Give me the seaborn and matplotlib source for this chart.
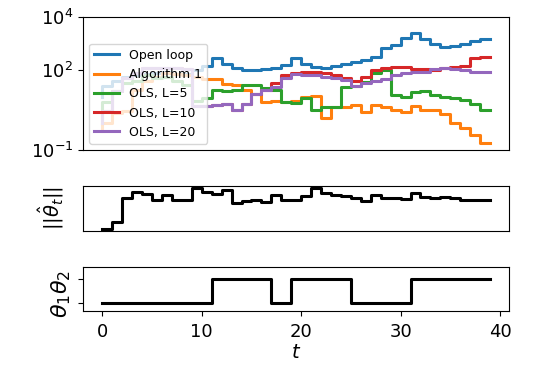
import numpy as np
import pandas as pd
import matplotlib
matplotlib.use("Agg")
import matplotlib.pyplot as plt
import seaborn as sns

t = np.arange(40)

# log10 of the cost per step
open_loop_log = [1.0, 1.4, 1.6, 1.75, 1.8, 1.85, 1.9, 1.95, 1.85, 1.85, 2.0, 2.15,
                 2.45, 2.22, 2.07, 2.0, 2.0, 2.04, 2.1, 2.2, 2.45, 2.22, 2.13, 2.1,
                 2.17, 2.22, 2.32, 2.38, 2.5, 2.82, 2.95, 3.2, 3.39, 3.17, 2.97, 2.88,
                 2.92, 3.0, 3.1, 3.16]
algo1_log = [-0.3, 0.0, 0.4, 0.45, 1.25, 1.6, 1.75, 1.9, 1.85, 1.8, 1.75, 1.65,
             1.68, 1.48, 1.43, 1.25, 1.12, 0.8, 0.85, 0.82, 0.85, 1.0, 1.02, 0.19,
             0.6, 0.62, 0.7, 0.42, 0.7, 0.62, 0.49, 0.42, 0.67, 0.5, 0.5, 0.35,
             0.02, -0.18, -0.45, -0.75]
ols5_log = [0.5, 0.8, 1.2, 1.5, 1.6, 1.8, 1.7, 1.75, 1.6, 1.45, 0.85, 0.95,
            1.25, 1.2, 1.24, 1.45, 1.45, 1.32, 1.26, 0.82, 0.75, 0.96, 0.5, 0.62,
            0.63, 1.38, 1.4, 1.55, 1.88, 2.0, 1.07, 1.0, 1.17, 1.22, 1.07, 1.0,
            0.94, 0.88, 0.72, 0.5]
ols10_log = [0.0, 0.45, 1.2, 1.7, 1.9, 2.1, 2.1, 2.1, 2.1, 2.05, 0.65, 0.65,
             0.7, 0.72, 0.5, 0.72, 1.1, 1.25, 1.5, 1.8, 1.9, 1.92, 1.92, 1.88,
             1.82, 1.7, 1.6, 1.76, 2.0, 2.1, 2.13, 2.13, 2.05, 2.05, 2.0, 2.07,
             2.13, 2.17, 2.47, 2.5]
ols20_log = [0.0, 0.45, 1.2, 1.7, 1.9, 2.1, 2.1, 2.1, 2.1, 2.05, 0.65, 0.65,
             0.7, 0.72, 0.5, 0.72, 1.1, 1.25, 1.35, 1.72, 1.85, 1.8, 1.8, 1.76,
             1.7, 1.62, 1.42, 1.5, 1.58, 1.68, 1.82, 1.9, 1.94, 1.94, 2.05, 2.08,
             2.05, 2.0, 1.94, 1.94]

theta_norm = [0.7, 0.7, 2.7, 10.0, 11.9, 11.2, 9.5, 11.0, 9.4, 9.6, 13.0, 11.9,
              11.2, 12.6, 8.7, 9.3, 9.4, 9.0, 11.0, 9.6, 9.5, 10.7, 13.2, 11.5,
              11.0, 10.6, 10.2, 9.1, 10.9, 10.2, 10.0, 9.7, 11.5, 10.4, 10.0, 10.3,
              10.0, 9.4, 9.4, 9.4]
theta_mode = [1] * 12 + [2] * 6 + [1] * 2 + [2] * 6 + [1] * 6 + [2] * 8

series = [
    ("Open loop", open_loop_log, "#1f77b4"),
    ("Algorithm 1", algo1_log, "#ff7f0e"),
    ("OLS, L=5", ols5_log, "#2ca02c"),
    ("OLS, L=10", ols10_log, "#d62728"),
    ("OLS, L=20", ols20_log, "#9467bd"),
]

fig = plt.figure(figsize=(5.42, 3.67), dpi=100)
ax1 = fig.add_axes([0.153, 0.591, 0.787, 0.363])
ax2 = fig.add_axes([0.153, 0.371, 0.787, 0.123], sharex=ax1)
ax3 = fig.add_axes([0.153, 0.153, 0.787, 0.120], sharex=ax1)

for name, vals, col in series:
    df = pd.DataFrame({"t": t, "cost": 10.0 ** np.array(vals)})
    sns.lineplot(data=df, x="t", y="cost", ax=ax1, color=col, lw=2.2,
                 drawstyle="steps-pre", label=name)
ax1.set_yscale("log")
ax1.set_ylim(1e-1, 1e4)
ax1.set_yticks([1e-1, 1e2, 1e4])
ax1.minorticks_off()
ax1.tick_params(axis="y", labelsize=13)
ax1.tick_params(axis="x", bottom=False, labelbottom=False)
ax1.set_xlabel("")
ax1.set_ylabel("")
ax1.legend(loc="lower left", fontsize=9)

sns.lineplot(x=t, y=theta_norm, ax=ax2, color="black", lw=2.2, drawstyle="steps-pre")
ax2.set_yticks([])
ax2.set_ylabel(r"$||\hat{\theta}_t||$", fontsize=14, labelpad=12)
ax2.tick_params(axis="x", bottom=False, labelbottom=False)

sns.lineplot(x=t, y=theta_mode, ax=ax3, color="black", lw=2.2, drawstyle="steps-pre")
ax3.set_ylim(0.68, 2.52)
ax3.set_yticks([1, 2], [r"$\theta_1$", r"$\theta_2$"], rotation=90, fontsize=16)
ax3.set_xticks([0, 10, 20, 30, 40])
ax3.tick_params(axis="x", labelsize=13, pad=5)
ax3.set_xlabel("$t$", fontsize=14, labelpad=2)

fig.savefig("out.png", dpi=100)
